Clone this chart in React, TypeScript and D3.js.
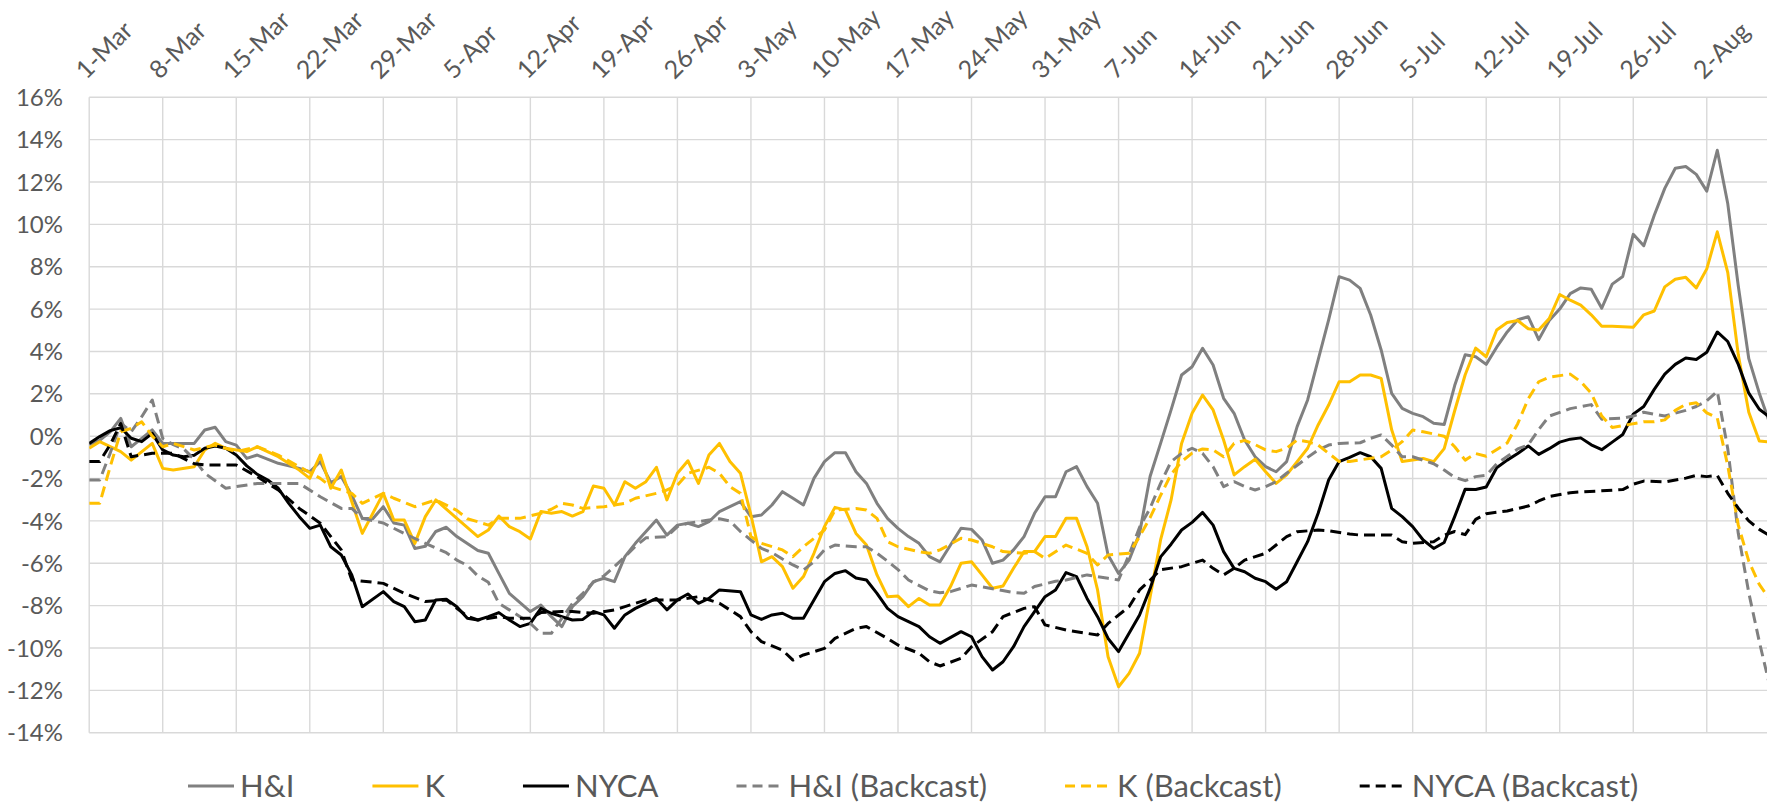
import React, { useEffect, useRef } from "react";
import * as d3 from "d3";

// day offsets from 1-Mar, value in %
type Pt = [number, number];

const tickLabels = [
  "1-Mar", "8-Mar", "15-Mar", "22-Mar", "29-Mar", "5-Apr", "12-Apr", "19-Apr",
  "26-Apr", "3-May", "10-May", "17-May", "24-May", "31-May", "7-Jun", "14-Jun",
  "21-Jun", "28-Jun", "5-Jul", "12-Jul", "19-Jul", "26-Jul", "2-Aug",
];

const yTicks = [-14, -12, -10, -8, -6, -4, -2, 0, 2, 4, 6, 8, 10, 12, 14, 16];

const seriesNames = ["H&I", "K", "NYCA", "H&I (Backcast)", "K (Backcast)", "NYCA (Backcast)"];

const hiActual: Pt[] = [
  [0, -0.4], [1, -0.2], [2, 0.2], [3, 0.84], [4, -0.5], [5, -0.1], [6, 0.3], [7, -0.34], [8, -0.35],
  [10, -0.34], [11, 0.29], [12, 0.42], [13, -0.26], [14, -0.42], [15, -1.05], [16, -0.89], [18, -1.28],
  [20, -1.52], [21, -1.68], [22, -1.2], [23, -2.2], [24, -1.9], [25, -2.8], [26, -3.88], [27, -3.9],
  [28, -3.33], [29, -4.1], [30, -4.2], [31, -5.3], [32, -5.2], [33, -4.5], [34, -4.3], [35, -4.74],
  [37, -5.4], [38, -5.53], [39, -6.48], [40, -7.42], [42, -8.28], [43, -7.97], [44, -8.52], [45, -8.99],
  [46, -8.05], [47, -7.58], [48, -6.87], [49, -6.71], [50, -6.87], [51, -5.69], [52, -5.06], [54, -3.96],
  [55, -4.67], [56, -4.2], [57, -4.11], [58, -4.27], [59, -4.04], [60, -3.56], [62, -3.09], [63, -3.8],
  [64, -3.72], [65, -3.25], [66, -2.62], [67, -2.93], [68, -3.25], [69, -1.99], [70, -1.2], [71, -0.78],
  [72, -0.78], [73, -1.68], [74, -2.23], [75, -3.17], [76, -3.88], [77, -4.35], [78, -4.74], [79, -5.06],
  [80, -5.69], [81, -5.93], [82, -5.14], [83, -4.35], [84, -4.4], [85, -4.9], [86, -6.0], [87, -5.85],
  [88, -5.37], [89, -4.74], [90, -3.64], [91, -2.86], [92, -2.86], [93, -1.68], [94, -1.44], [95, -2.38],
  [96, -3.17], [97, -5.61], [98, -6.48], [99, -5.85], [100, -4.59], [101, -1.9], [102, -0.34], [103, 1.24],
  [104, 2.89], [105, 3.28], [106, 4.15], [107, 3.36], [108, 1.79], [109, 1.08], [110, -0.18], [111, -0.97],
  [112, -1.44], [113, -1.68], [114, -1.2], [115, 0.45], [116, 1.71], [117, 3.6], [118, 5.49], [119, 7.53],
  [120, 7.37], [121, 6.98], [122, 5.72], [123, 4.07], [124, 2.02], [125, 1.31], [126, 1.08], [127, 0.92],
  [128, 0.61], [129, 0.55], [130, 2.39], [131, 3.84], [132, 3.75], [133, 3.39], [134, 4.2], [135, 4.92],
  [136, 5.5], [137, 5.64], [138, 4.56], [139, 5.46], [140, 6.0], [141, 6.73], [142, 7.0], [143, 6.94],
  [144, 6.04], [145, 7.18], [146, 7.54], [147, 9.53], [148, 8.99], [149, 10.43], [150, 11.7], [151, 12.65],
  [152, 12.73], [153, 12.36], [154, 11.57], [155, 13.5], [156, 10.97], [157, 7.09], [158, 3.66], [159, 2.03],
  [160, 0.6],
];

const kActual: Pt[] = [
  [0, -0.57], [1, -0.26], [3, -0.73], [4, -1.13], [6, -0.34], [7, -1.52], [8, -1.6], [10, -1.44],
  [11, -0.65], [12, -0.34], [13, -0.57], [15, -0.73], [16, -0.5], [18, -0.97], [20, -1.6], [21, -1.99],
  [22, -0.89], [23, -2.46], [24, -1.6], [26, -4.59], [28, -2.7], [29, -3.96], [30, -3.96], [31, -5.06],
  [32, -3.8], [33, -3.01], [35, -3.88], [37, -4.74], [38, -4.43], [39, -3.77], [40, -4.27], [41, -4.51],
  [42, -4.85], [43, -3.56], [44, -3.64], [45, -3.56], [46, -3.77], [47, -3.56], [48, -2.35], [49, -2.46],
  [50, -3.25], [51, -2.15], [52, -2.46], [53, -2.15], [54, -1.47], [55, -3.01], [56, -1.75], [57, -1.16],
  [58, -2.23], [59, -0.89], [60, -0.34], [61, -1.2], [62, -1.75], [63, -3.72], [64, -5.93], [65, -5.69],
  [66, -6.16], [67, -7.18], [68, -6.63], [69, -5.53], [70, -4.27], [71, -3.36], [72, -3.49], [73, -4.59],
  [74, -5.14], [75, -6.55], [76, -7.58], [77, -7.55], [78, -8.05], [79, -7.66], [80, -7.97], [81, -7.97],
  [82, -7.1], [83, -6.0], [84, -5.93], [85, -6.55], [86, -7.18], [87, -7.07], [88, -6.24], [89, -5.45],
  [90, -5.45], [91, -4.74], [92, -4.74], [93, -3.88], [94, -3.88], [95, -5.22], [96, -7.26], [97, -10.41],
  [98, -11.83], [99, -11.2], [100, -10.25], [101, -7.6], [102, -4.9], [103, -3.01], [104, -0.34], [105, 1.08],
  [106, 1.94], [107, 1.24], [108, -0.18], [109, -1.83], [110, -1.44], [111, -1.09], [112, -1.68], [113, -2.23],
  [114, -1.83], [115, -1.2], [116, -0.57], [117, 0.53], [118, 1.47], [119, 2.57], [120, 2.57], [121, 2.89],
  [122, 2.89], [123, 2.73], [124, 0.3], [125, -1.2], [126, -1.12], [127, -1.05], [128, -1.2], [129, -0.59],
  [130, 1.2], [131, 2.9], [132, 4.16], [133, 3.75], [134, 5.01], [135, 5.37], [136, 5.46], [137, 5.07],
  [138, 5.01], [139, 5.55], [140, 6.69], [141, 6.42], [142, 6.19], [143, 5.73], [144, 5.19], [145, 5.19],
  [147, 5.14], [148, 5.73], [149, 5.91], [150, 7.05], [151, 7.41], [152, 7.5], [153, 7.0], [154, 7.9],
  [155, 9.65], [156, 7.72], [157, 3.84], [158, 1.13], [159, -0.23], [160, -0.28],
];

const nycaActual: Pt[] = [
  [0, -0.34], [1, -0.02], [2, 0.26], [3, 0.4], [4, -0.1], [5, -0.26], [6, 0.13], [7, -0.65], [8, -0.89],
  [9, -0.97], [10, -0.9], [11, -0.57], [12, -0.46], [13, -0.57], [14, -0.89], [15, -1.4], [16, -1.8],
  [17, -2.07], [18, -2.46], [19, -3.17], [20, -3.8], [21, -4.35], [22, -4.2], [23, -5.22], [24, -5.61],
  [25, -6.55], [26, -8.05], [28, -7.34], [29, -7.81], [30, -8.05], [31, -8.76], [32, -8.68], [33, -7.73],
  [34, -7.7], [35, -8.05], [36, -8.6], [37, -8.68], [38, -8.52], [39, -8.33], [40, -8.68], [41, -8.99],
  [42, -8.84], [43, -8.13], [44, -8.36], [45, -8.52], [46, -8.68], [47, -8.65], [48, -8.28], [49, -8.44],
  [50, -9.07], [51, -8.44], [52, -8.13], [54, -7.66], [55, -8.2], [56, -7.73], [57, -7.45], [58, -7.89],
  [59, -7.66], [60, -7.26], [62, -7.34], [63, -8.44], [64, -8.65], [65, -8.44], [66, -8.36], [67, -8.6],
  [68, -8.6], [69, -7.73], [70, -6.87], [71, -6.48], [72, -6.35], [73, -6.7], [74, -6.79], [75, -7.42],
  [76, -8.13], [77, -8.52], [79, -8.99], [80, -9.47], [81, -9.78], [83, -9.23], [84, -9.47], [85, -10.41],
  [86, -11.04], [87, -10.65], [88, -9.94], [89, -8.99], [90, -8.28], [91, -7.58], [92, -7.26], [93, -6.44],
  [94, -6.63], [95, -7.66], [96, -8.52], [97, -9.55], [98, -10.17], [99, -9.31], [100, -8.44], [101, -7.2],
  [102, -5.7], [103, -5.1], [104, -4.43], [105, -4.07], [106, -3.6], [107, -4.2], [108, -5.45], [109, -6.24],
  [110, -6.4], [111, -6.71], [112, -6.87], [113, -7.23], [114, -6.87], [115, -5.93], [116, -4.98], [117, -3.64],
  [118, -2.07], [119, -1.2], [120, -1.0], [121, -0.78], [122, -0.97], [123, -1.52], [124, -3.41], [125, -3.8],
  [126, -4.27], [127, -4.9], [128, -5.3], [129, -5.02], [130, -3.8], [131, -2.5], [132, -2.52], [133, -2.4],
  [134, -1.49], [135, -1.13], [136, -0.82], [137, -0.46], [138, -0.86], [139, -0.59], [140, -0.28], [141, -0.14],
  [142, -0.08], [143, -0.41], [144, -0.64], [145, -0.28], [146, 0.08], [147, 1.04], [148, 1.4], [149, 2.21],
  [150, 2.93], [151, 3.39], [152, 3.69], [153, 3.62], [154, 3.96], [155, 4.92], [156, 4.47], [157, 3.39],
  [158, 2.03], [159, 1.27], [160, 0.9],
];

const hiBackcast: Pt[] = [
  [0, -2.07], [1, -2.07], [2, -0.8], [3, 0.61], [4, 0.21], [5, 0.92], [6, 1.71], [7, -0.1], [8, -0.4],
  [9, -0.6], [10, -1.1], [11, -1.75], [12, -2.1], [13, -2.46], [14, -2.38], [16, -2.23], [18, -2.23],
  [20, -2.23], [22, -2.86], [24, -3.41], [25, -3.41], [26, -3.88], [28, -4.1], [30, -4.6], [32, -5.06],
  [34, -5.5], [35, -5.85], [36, -6.1], [37, -6.6], [38, -6.9], [39, -7.89], [40, -8.2], [42, -8.84],
  [43, -9.31], [44, -9.31], [45, -8.6], [46, -7.9], [47, -7.42], [48, -6.9], [49, -6.6], [50, -6.16],
  [51, -5.7], [52, -5.2], [53, -4.8], [55, -4.74], [56, -4.27], [57, -4.11], [59, -3.96], [60, -3.9],
  [61, -4.0], [62, -4.5], [63, -4.9], [64, -5.3], [65, -5.5], [66, -5.8], [67, -6.08], [68, -6.32],
  [69, -5.93], [70, -5.37], [71, -5.14], [73, -5.22], [74, -5.22], [75, -5.53], [76, -5.9], [77, -6.3],
  [78, -6.79], [80, -7.3], [81, -7.39], [82, -7.34], [84, -7.03], [86, -7.2], [88, -7.38], [89, -7.42],
  [90, -7.1], [92, -6.85], [93, -6.79], [95, -6.55], [97, -6.71], [98, -6.79], [99, -5.6], [100, -4.3],
  [101, -3.4], [102, -2.23], [103, -1.2], [104, -0.81], [105, -0.57], [106, -0.81], [107, -1.44], [108, -2.38],
  [109, -2.15], [110, -2.38], [111, -2.54], [112, -2.38], [113, -2.15], [114, -1.75], [116, -1.0], [117, -0.65],
  [118, -0.42], [119, -0.34], [121, -0.31], [122, -0.1], [123, 0.06], [124, -0.42], [125, -0.97], [126, -0.97],
  [128, -1.3], [129, -1.6], [130, -1.94], [131, -2.1], [132, -1.91], [133, -1.85], [134, -1.31], [136, -0.6],
  [137, -0.41], [138, 0.31], [139, 0.95], [141, 1.3], [143, 1.49], [144, 0.8], [146, 0.85], [147, 0.95],
  [148, 1.13], [150, 0.95], [152, 1.22], [153, 1.4], [154, 1.67], [155, 2.12], [156, -0.6], [157, -4.6],
  [158, -7.4], [159, -9.7], [160, -11.8],
];

const kBackcast: Pt[] = [
  [0, -3.17], [1, -3.17], [2, -1.44], [3, 0.21], [4, 0.37], [5, 0.68], [6, 0.0], [7, -0.5], [8, -0.34],
  [10, -0.65], [12, -0.42], [14, -0.73], [16, -0.5], [18, -0.89], [20, -1.44], [22, -1.99], [23, -2.38],
  [25, -2.7], [26, -3.17], [28, -2.7], [29, -2.93], [31, -3.33], [33, -3.01], [35, -3.5], [36, -3.9],
  [37, -4.04], [38, -4.2], [39, -3.88], [41, -3.88], [43, -3.64], [44, -3.45], [45, -3.17], [46, -3.25],
  [47, -3.41], [49, -3.33], [50, -3.25], [51, -3.17], [52, -2.93], [54, -2.7], [55, -2.54], [56, -2.31],
  [57, -1.75], [59, -1.47], [60, -1.75], [61, -2.38], [62, -2.7], [63, -4.74], [64, -5.06], [66, -5.37],
  [67, -5.69], [68, -5.22], [70, -4.43], [71, -3.49], [73, -3.41], [74, -3.49], [75, -3.88], [76, -4.98],
  [77, -5.22], [79, -5.45], [80, -5.53], [81, -5.37], [83, -4.82], [84, -4.9], [86, -5.22], [87, -5.45],
  [89, -5.53], [90, -5.45], [91, -5.77], [93, -5.14], [95, -5.53], [96, -6.08], [97, -5.61], [99, -5.53],
  [100, -4.74], [101, -3.85], [102, -2.8], [103, -1.8], [104, -1.2], [105, -0.8], [106, -0.6], [107, -0.65],
  [108, -0.97], [109, -0.34], [110, -0.2], [111, -0.4], [112, -0.65], [113, -0.73], [114, -0.57], [115, -0.18],
  [116, -0.26], [117, -0.42], [118, -0.81], [119, -1.2], [120, -1.2], [121, -1.12], [123, -0.97], [124, -0.65],
  [125, -0.26], [126, 0.29], [127, 0.21], [129, 0.0], [130, -0.5], [131, -1.13], [132, -0.82], [133, -0.95],
  [135, -0.32], [136, 0.59], [137, 1.76], [138, 2.57], [139, 2.79], [141, 2.93], [142, 2.57], [143, 2.03],
  [144, 0.95], [145, 0.41], [146, 0.5], [148, 0.68], [149, 0.68], [150, 0.77], [151, 1.22], [152, 1.5],
  [153, 1.58], [154, 1.1], [155, 0.86], [156, -1.4], [157, -4.2], [158, -5.9], [159, -7.0], [160, -7.7],
];

const nycaBackcast: Pt[] = [
  [0, -1.2], [1, -1.2], [2, -0.4], [3, 0.6], [4, -0.97], [6, -0.81], [8, -0.81], [10, -1.3], [11, -1.36],
  [14, -1.36], [16, -1.91], [18, -2.54], [20, -3.41], [22, -4.11], [24, -5.37], [25, -6.79], [28, -6.95],
  [30, -7.42], [32, -7.81], [34, -7.73], [35, -8.13], [36, -8.5], [37, -8.68], [39, -8.52], [40, -8.6],
  [42, -8.6], [43, -8.33], [45, -8.28], [46, -8.28], [48, -8.36], [50, -8.2], [51, -8.05], [53, -7.73],
  [56, -7.73], [58, -7.58], [59, -7.73], [60, -7.89], [62, -8.52], [63, -9.23], [64, -9.7], [66, -10.1],
  [67, -10.57], [68, -10.33], [70, -10.02], [71, -9.55], [73, -9.07], [74, -8.99], [76, -9.55], [77, -9.86],
  [79, -10.25], [80, -10.65], [81, -10.85], [83, -10.49], [84, -9.94], [86, -9.23], [87, -8.52], [89, -8.13],
  [90, -8.05], [91, -8.91], [93, -9.15], [95, -9.31], [96, -9.39], [97, -8.84], [99, -8.05], [100, -7.26],
  [101, -6.8], [102, -6.3], [104, -6.16], [106, -5.85], [107, -6.24], [108, -6.55], [109, -6.24], [110, -5.85],
  [112, -5.53], [113, -5.14], [114, -4.74], [115, -4.51], [117, -4.43], [118, -4.46], [120, -4.62], [121, -4.67],
  [124, -4.67], [125, -4.98], [126, -5.06], [128, -4.98], [129, -4.67], [130, -4.5], [131, -4.65], [132, -3.93],
  [133, -3.66], [135, -3.53], [137, -3.3], [138, -3.06], [139, -2.85], [141, -2.67], [142, -2.63], [144, -2.58],
  [146, -2.52], [147, -2.27], [148, -2.12], [150, -2.16], [152, -1.98], [153, -1.85], [154, -1.91], [155, -1.85],
  [156, -2.7], [157, -3.4], [158, -4.0], [159, -4.4], [160, -4.7],
];

const seriesData = [hiActual, kActual, nycaActual, hiBackcast, kBackcast, nycaBackcast];
const seriesColors = ["#808080", "#FFC000", "#000000", "#808080", "#FFC000", "#000000"];
const seriesDashed = [false, false, false, true, true, true];

const W = 1767;
const H = 805;
const FONT = "Lato, 'Open Sans', sans-serif";

const App = () => {
  const svgRef = useRef<SVGSVGElement | null>(null);

  useEffect(() => {
    document.body.style.margin = "0";
    document.body.style.overflow = "hidden";
    const svgEl = svgRef.current;
    if (!svgEl) return;
    const svg = d3.select(svgEl);
    svg.selectAll("*").remove();

    const parse = d3.utcParse("%d-%b");
    const start = parse(tickLabels[0]) as Date;
    const dayDate = (d: number) => d3.utcDay.offset(start, d);

    // 10.5px per day, 1-Mar on the left edge of the plot
    const x = d3.scaleUtc().domain([dayDate(0), dayDate(160)]).range([89.2, 1769.8]);
    const y = d3.scaleLinear().domain([-14, 16]).range([732.7, 97.3]);

    const plotLeft = x.range()[0];
    const plotTop = y(16);
    const plotBottom = y(-14);

    svg.append("rect").attr("width", W).attr("height", H).attr("fill", "#ffffff");

    // gridlines
    const grid = svg.append("g").attr("stroke", "#d9d9d9").attr("stroke-width", 1.4);
    grid.selectAll("line.h")
      .data(yTicks)
      .join("line")
      .attr("class", "h")
      .attr("x1", plotLeft)
      .attr("x2", W)
      .attr("y1", d => y(d))
      .attr("y2", d => y(d));

    const tickDates = tickLabels.map(t => parse(t) as Date);
    grid.selectAll("line.v")
      .data(tickDates)
      .join("line")
      .attr("class", "v")
      .attr("x1", d => x(d))
      .attr("x2", d => x(d))
      .attr("y1", plotTop)
      .attr("y2", plotBottom);

    // y labels
    svg.append("g")
      .selectAll("text")
      .data(yTicks)
      .join("text")
      .attr("x", 63)
      .attr("y", d => y(d))
      .attr("dy", "0.36em")
      .attr("text-anchor", "end")
      .attr("fill", "#595959")
      .style("font-family", FONT)
      .style("font-size", "24px")
      .text(d => `${d}%`);

    // x labels, rotated, above the plot
    svg.append("g")
      .selectAll("text")
      .data(tickDates)
      .join("text")
      .attr("transform", (d: Date) => `translate(${x(d) - 3},${plotTop - 17}) rotate(-45)`)
      .attr("text-anchor", "start")
      .attr("fill", "#595959")
      .style("font-family", FONT)
      .style("font-size", "25px")
      .text((d, i) => tickLabels[i]);

    // lines
    svg.append("clipPath")
      .attr("id", "plot-clip")
      .append("rect")
      .attr("x", plotLeft)
      .attr("y", 0)
      .attr("width", W - plotLeft)
      .attr("height", H);

    const lineGen = d3.line<Pt>()
      .x(d => x(dayDate(d[0])))
      .y(d => y(d[1]));

    const lines = svg.append("g").attr("clip-path", "url(#plot-clip)");
    seriesData.forEach((data, i) => {
      lines.append("path")
        .datum(data)
        .attr("d", lineGen)
        .attr("fill", "none")
        .attr("stroke", seriesColors[i])
        .attr("stroke-width", 3)
        .attr("stroke-linejoin", "round")
        .attr("stroke-dasharray", seriesDashed[i] ? "11,6" : null);
    });

    // legend
    const legend = svg.append("g");
    const legendY = 786;
    let lx = 188;
    seriesNames.forEach((name, i) => {
      legend.append("line")
        .attr("x1", lx)
        .attr("x2", lx + 46)
        .attr("y1", legendY)
        .attr("y2", legendY)
        .attr("stroke", seriesColors[i])
        .attr("stroke-width", 3)
        .attr("stroke-dasharray", seriesDashed[i] ? "10,6" : null);
      const t = legend.append("text")
        .attr("x", lx + 52)
        .attr("y", legendY)
        .attr("dy", "0.36em")
        .attr("fill", "#595959")
        .style("font-family", FONT)
        .style("font-size", "31px")
        .text(name);
      const tw = (t.node() as SVGTextElement).getComputedTextLength();
      lx += 52 + tw + 78;
    });
  }, []);

  return <svg ref={svgRef} width={W} height={H} style={{ display: "block" }} />;
};

export default App;
